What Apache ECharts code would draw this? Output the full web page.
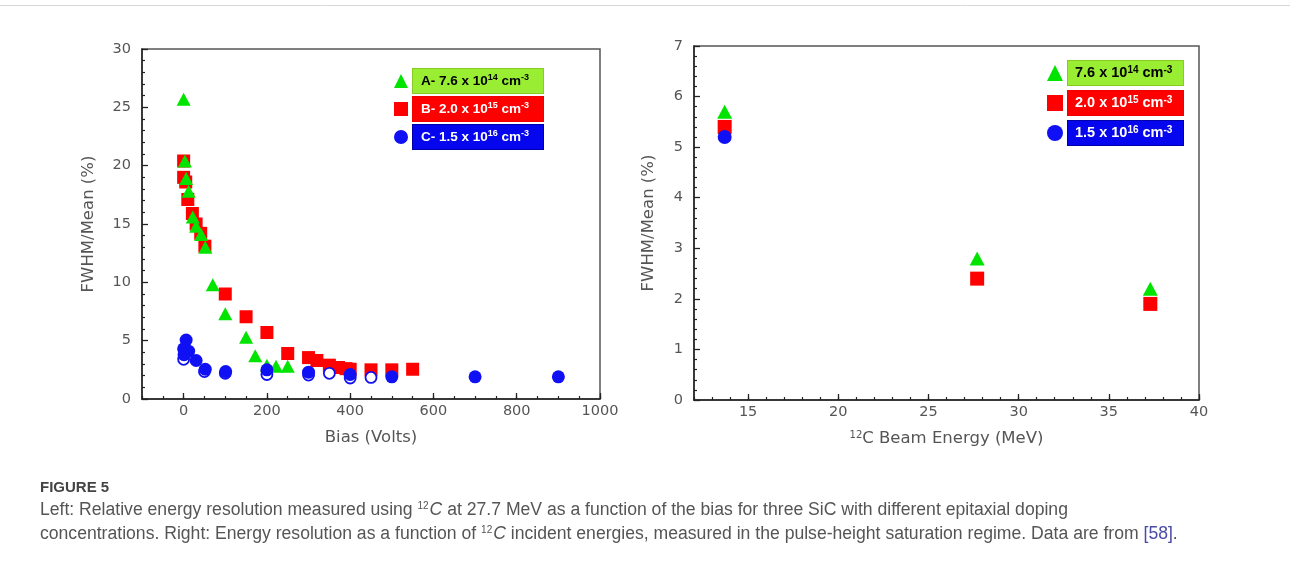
<!DOCTYPE html>
<html>
<head>
<meta charset="utf-8">
<script src="https://cdn.jsdelivr.net/npm/echarts@6/dist/echarts.min.js"></script>
<style>
  html, body { margin: 0; padding: 0; background: #fff; }
  #main { width: 1290px; height: 570px; }
</style>
</head>
<body>
<div id="main"></div>
<script>
// left panel: FWHM/Mean (%) vs bias (V)
var aBias = [0, 3, 6, 12, 22, 30, 42, 52, 70, 100, 150, 172, 200, 222, 250];
var aFwhm = [25.7, 20.4, 18.9, 17.8, 15.6, 14.8, 14.1, 13.0, 9.8, 7.3, 5.3, 3.7, 2.9, 2.8, 2.8];
var bBias = [0, 0, 5, 10, 21, 30, 41, 51, 100, 150, 200, 250, 300, 320, 350, 372, 390, 400, 450, 500, 550];
var bFwhm = [20.4, 19.0, 18.6, 17.1, 15.9, 15.0, 14.2, 13.1, 9.0, 7.05, 5.7, 3.9, 3.55, 3.3, 2.9, 2.7, 2.6, 2.55, 2.5, 2.5, 2.55];
var cBias = [6, 0, 12, 1, 30, 52, 101, 200, 300, 400, 500, 700, 900];
var cFwhm = [5.05, 4.3, 4.1, 3.8, 3.3, 2.55, 2.35, 2.5, 2.3, 2.1, 1.9, 1.9, 1.9];
var cOpenBias = [0, 50, 100, 200, 300, 350, 400, 450];
var cOpenFwhm = [3.4, 2.35, 2.2, 2.1, 2.05, 2.2, 1.8, 1.85];

// right panel: FWHM/Mean (%) vs 12C beam energy (MeV)
var energyA = [13.7, 27.7, 37.3];
var resA = [5.7, 2.8, 2.2];
var energyB = [13.7, 27.7, 37.3];
var resB = [5.4, 2.4, 1.9];
var energyC = [13.7];
var resC = [5.2];

var leftTicks = [0, 200, 400, 600, 800, 1000];
var rightTicks = [15, 20, 25, 30, 35, 40];

var nameA = 'A- 7.6 x 10^14 cm^-3';
var nameB = 'B- 2.0 x 10^15 cm^-3';
var nameC = 'C- 1.5 x 10^16 cm^-3';
var nameCopen = 'C open';
var nameA2 = '7.6 x 10^14 cm^-3';
var nameB2 = '2.0 x 10^15 cm^-3';
var nameC2 = '1.5 x 10^16 cm^-3';

var GREEN = '#00e400';
var RED = '#ff0000';
var BLUE = '#1010f5';
var AXIS_TEXT = '#555';
var FONT = 'DejaVu Sans';
var CAP_FONT = 'Liberation Sans';
var CAP_SIZE = 17.6;

function pairs(xs, ys) {
	var out = [];
	for (var i = 0; i < xs.length; i++) out.push([xs[i], ys[i]]);
	return out;
}

// "10^14 cm^-3" -> rich text with superscripts
function legendText(name) {
	var dark = (name.indexOf('7.6') >= 0);
	var t = dark ? 'k' : 'w';
	var st = dark ? 'ks' : 'ws';
	return name.replace(/\^(-?\d+)/g, function (m, p) { return '}{' + st + '|' + p + '}{' + t + '|'; })
		.replace(/^/, '{' + t + '|') + '}';
}

function legendRich(size) {
	var base = { fontSize: size, fontWeight: 'bold', fontFamily: 'Liberation Sans', lineHeight: 16 };
	var sup = { fontSize: Math.round(size * 0.68), fontWeight: 'bold', fontFamily: 'Liberation Sans', verticalAlign: 'top', lineHeight: 16, padding: [0, 0, 6, 0] };
	return {
		k: Object.assign({ color: '#000' }, base),
		w: Object.assign({ color: '#fff' }, base),
		ks: Object.assign({ color: '#000' }, sup),
		ws: Object.assign({ color: '#fff' }, sup)
	};
}

function legendItem(name, bg, border) {
	return { name: name, textStyle: { backgroundColor: bg, borderColor: border, borderWidth: 1 } };
}

function majorAxis(gi, min, max, ticks, name) {
	return {
		type: 'value', gridIndex: gi, min: min, max: max, position: 'bottom',
		name: name, nameLocation: 'middle', nameGap: 30,
		nameTextStyle: {
			color: AXIS_TEXT, fontSize: 16.5, fontFamily: FONT,
			rich: { s: { fontSize: 10, color: AXIS_TEXT, fontFamily: FONT, verticalAlign: 'top', padding: [0, 0, 6, 0] } }
		},
		axisLine: { onZero: false, lineStyle: { color: '#222', width: 1.5 } },
		axisTick: { inside: true, length: 6, customValues: ticks, lineStyle: { color: '#222', width: 1.3 } },
		axisLabel: { customValues: ticks, color: AXIS_TEXT, fontSize: 14.5, fontFamily: FONT, margin: 5,
			formatter: function (v) { return String(v); } },
		splitLine: { show: false }
	};
}

function minorAxis(gi, min, max, step) {
	return {
		type: 'value', gridIndex: gi, min: min, max: max, interval: step, position: 'bottom',
		axisLine: { show: false, onZero: false },
		axisTick: { inside: true, length: 3, lineStyle: { color: '#222', width: 1.2 } },
		axisLabel: { show: false },
		splitLine: { show: false }
	};
}

function yAxis(gi, max) {
	return {
		type: 'value', gridIndex: gi, min: 0, max: max, interval: (max == 30 ? 5 : 1),
		name: 'FWHM/Mean (%)', nameLocation: 'middle', nameGap: gi == 0 ? 45 : 37,
		nameTextStyle: { color: AXIS_TEXT, fontSize: 16.5, fontFamily: FONT },
		axisLine: { onZero: false, lineStyle: { color: '#222', width: 1.5 } },
		axisTick: { inside: true, length: 6, lineStyle: { color: '#222', width: 1.3 } },
		minorTick: { show: true, splitNumber: 5, length: 3, lineStyle: { color: '#222', width: 1.2 } },
		axisLabel: { color: AXIS_TEXT, fontSize: 14.5, fontFamily: FONT, margin: 11 },
		splitLine: { show: false }
	};
}

var capRich = {
	sup: { fontSize: 10, fill: '#555', fontFamily: CAP_FONT, verticalAlign: 'top', padding: [0, 1, 8, 0] },
	it: { fontSize: CAP_SIZE, fill: '#555', fontStyle: 'italic', fontFamily: CAP_FONT },
	ref: { fontSize: CAP_SIZE, fill: '#4a4aa8', fontFamily: CAP_FONT }
};

var chart = echarts.init(document.getElementById('main'));

chart.setOption({
	backgroundColor: '#fff',
	animation: false,
	grid: [
		{ left: 142, top: 49, width: 458, height: 350, show: true, borderColor: '#555', borderWidth: 1.5 },
		{ left: 694, top: 46, width: 505, height: 354, show: true, borderColor: '#555', borderWidth: 1.5 }
	],
	xAxis: [
		majorAxis(0, -100, 1000, leftTicks, 'Bias (Volts)'),
		minorAxis(0, -100, 1000, 50),
		majorAxis(1, 12, 40, rightTicks, '{s|12}C Beam Energy (MeV)'),
		minorAxis(1, 12, 40, 1)
	],
	yAxis: [yAxis(0, 30), yAxis(1, 7)],
	legend: [
		{
			left: 389, top: 63, orient: 'vertical', itemWidth: 14, itemHeight: 14, itemGap: 2,
			formatter: legendText,
			textStyle: { padding: [4, 8, 4, 8], width: 114, rich: legendRich(13.5) },
			data: [
				legendItem(nameA, '#99ee33', '#88cc22'),
				legendItem(nameB, '#ff0000', '#ee0000'),
				legendItem(nameC, '#0505ee', '#0000aa')
			]
		},
		{
			left: 1042, top: 55, orient: 'vertical', itemWidth: 16, itemHeight: 16, itemGap: 4,
			formatter: legendText,
			textStyle: { padding: [4, 7, 4, 7], width: 101, rich: legendRich(14.5) },
			data: [
				legendItem(nameA2, '#99ee33', '#88cc22'),
				legendItem(nameB2, '#ff0000', '#ee0000'),
				legendItem(nameC2, '#0505ee', '#0000aa')
			]
		}
	],
	series: [
		{ name: nameB, type: 'scatter', xAxisIndex: 0, yAxisIndex: 0, symbol: 'rect', symbolSize: 13,
			itemStyle: { color: RED, opacity: 1 }, data: pairs(bBias, bFwhm) },
		{ name: nameA, type: 'scatter', xAxisIndex: 0, yAxisIndex: 0, symbol: 'triangle', symbolSize: [14, 13],
			itemStyle: { color: GREEN, opacity: 1 }, data: pairs(aBias, aFwhm) },
		{ name: nameCopen, type: 'scatter', xAxisIndex: 0, yAxisIndex: 0, symbol: 'circle', symbolSize: 11,
			itemStyle: { color: '#fff', borderColor: BLUE, borderWidth: 1.8, opacity: 1 }, data: pairs(cOpenBias, cOpenFwhm) },
		{ name: nameC, type: 'scatter', xAxisIndex: 0, yAxisIndex: 0, symbol: 'circle', symbolSize: 13,
			itemStyle: { color: BLUE, opacity: 1 }, data: pairs(cBias, cFwhm) },

		{ name: nameB2, type: 'scatter', xAxisIndex: 2, yAxisIndex: 1, symbol: 'rect', symbolSize: 14,
			itemStyle: { color: RED, opacity: 1 }, data: pairs(energyB, resB) },
		{ name: nameA2, type: 'scatter', xAxisIndex: 2, yAxisIndex: 1, symbol: 'triangle', symbolSize: [15, 14],
			itemStyle: { color: GREEN, opacity: 1 }, data: pairs(energyA, resA) },
		{ name: nameC2, type: 'scatter', xAxisIndex: 2, yAxisIndex: 1, symbol: 'circle', symbolSize: 14,
			itemStyle: { color: BLUE, opacity: 1 }, data: pairs(energyC, resC) }
	],
	graphic: [
		{ type: 'line', shape: { x1: 0, y1: 5.5, x2: 1290, y2: 5.5 }, style: { stroke: '#d8d8d8', lineWidth: 1 } },
		{ type: 'text', left: 40, top: 480,
			style: { text: 'FIGURE 5', fill: '#444', font: 'bold 15px "Liberation Sans", sans-serif' } },
		{ type: 'text', left: 40, top: 501,
			style: {
				text: 'Left: Relative energy resolution measured using {sup|12}{it|C} at 27.7 MeV as a function of the bias for three SiC with different epitaxial doping',
				fill: '#555', font: CAP_SIZE + 'px "Liberation Sans", sans-serif', rich: capRich
			} },
		{ type: 'text', left: 40, top: 525,
			style: {
				text: 'concentrations. Right: Energy resolution as a function of {sup|12}{it|C} incident energies, measured in the pulse-height saturation regime. Data are from {ref|[58]}.',
				fill: '#555', font: CAP_SIZE + 'px "Liberation Sans", sans-serif', rich: capRich
			} }
	]
});
</script>
</body>
</html>
